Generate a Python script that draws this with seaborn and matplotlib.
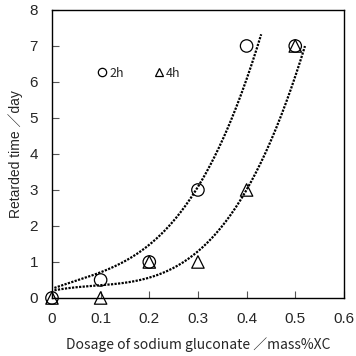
import numpy as np
import pandas as pd
import matplotlib
matplotlib.use("Agg")
import matplotlib.pyplot as plt
from matplotlib.lines import Line2D
import seaborn as sns

# measured points
dosage = [0.0, 0.1, 0.2, 0.3, 0.4, 0.5]
time_2h = [0.0, 0.5, 1.0, 3.0, 7.0, 7.0]
time_4h = [0.0, 0.0, 1.0, 1.0, 3.0, 7.0]

# trendline points (cubic fit drawn through them)
trend_2h_x = [0.005, 0.1, 0.2, 0.3, 0.4, 0.43]
trend_2h_y = [0.28, 0.70, 1.53, 3.0, 6.2, 7.25]
trend_4h_x = [0.005, 0.1, 0.2, 0.3, 0.4, 0.52]
trend_4h_y = [0.22, 0.33, 0.59, 1.29, 3.0, 7.0]

sns.set_style("ticks")
plt.rcParams["font.family"] = ["Liberation Sans", "Noto Sans CJK JP"]
jp = ["Noto Sans CJK JP", "DejaVu Sans"]

fig = plt.figure(figsize=(3.56, 3.56), dpi=100)
ax = fig.add_axes([0.146, 0.163, 0.820, 0.809])

# trendlines
for tx, ty in [(trend_2h_x, trend_2h_y), (trend_4h_x, trend_4h_y)]:
    coef = np.polyfit(tx, ty, 3)
    xx = np.linspace(tx[0], tx[-1], 200)
    sns.lineplot(x=xx, y=np.polyval(coef, xx), ax=ax, color="black",
                 lw=1.6, linestyle=(0, (1, 0.6)), sort=False)

df = pd.DataFrame({"x": dosage, "h2": time_2h, "h4": time_4h})
sns.scatterplot(data=df, x="x", y="h2", ax=ax, marker="o", s=80,
                facecolors="none", edgecolor="black", linewidth=0.9,
                clip_on=False, zorder=5)
sns.scatterplot(data=df, x="x", y="h4", ax=ax, marker="^", s=80,
                facecolors="none", edgecolor="black", linewidth=0.9,
                clip_on=False, zorder=5)

ax.set_xlim(0, 0.6)
ax.set_ylim(0, 8)
ax.set_xticks([0, 0.1, 0.2, 0.3, 0.4, 0.5, 0.6])
ax.set_xticklabels(["0", "0.1", "0.2", "0.3", "0.4", "0.5", "0.6"])
ax.set_yticks(range(0, 9))
ax.tick_params(direction="in", length=5, width=0.8, labelsize=11,
               color="#555555")
ax.tick_params(axis="x", pad=10)
ax.tick_params(axis="y", pad=10)
for sp in ax.spines.values():
    sp.set_linewidth(1.0)
    sp.set_color("black")

ax.set_xlabel("Dosage of sodium gluconate ／mass%XC", fontsize=10,
              family=jp, labelpad=8)
ax.set_ylabel("Retarded time ／day", fontsize=10, labelpad=5)

handles = [
    Line2D([], [], marker="o", ls="none", mfc="none", mec="black", ms=6, mew=0.9),
    Line2D([], [], marker="^", ls="none", mfc="none", mec="black", ms=6, mew=0.9),
]
ax.legend(handles, ["2h", "4h"], ncol=2, frameon=False,
          prop={"family": jp, "size": 9},
          handletextpad=0.1, columnspacing=2.3, handlelength=1.0,
          loc="center left", bbox_to_anchor=(0.11, 0.78))

fig.savefig("out.png", dpi=100)
